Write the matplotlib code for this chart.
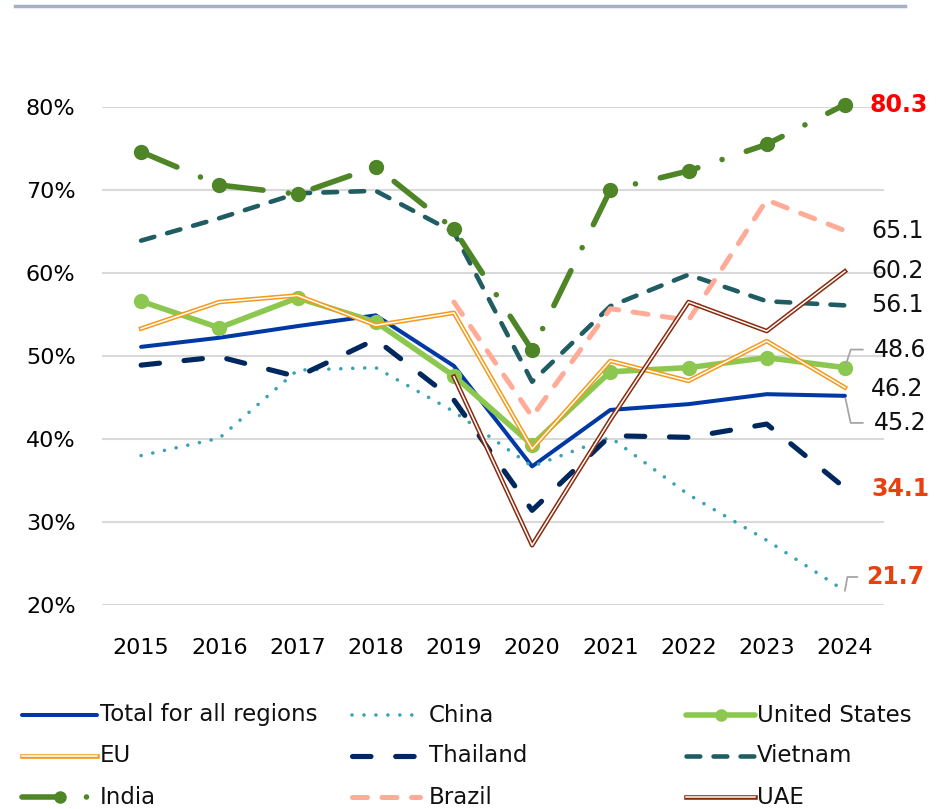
import matplotlib
matplotlib.use("Agg")
import matplotlib.pyplot as plt
from matplotlib.lines import Line2D
import numpy as np

plt.rcParams['font.family'] = ['DejaVu Sans']

years = ['2015', '2016', '2017', '2018', '2019', '2020', '2021', '2022', '2023', '2024']
nan = np.nan
total    = [51.1, 52.2, 53.6, 54.9, 48.8, 36.7, 43.5, 44.2, 45.4, 45.2]
china    = [38.0, 40.1, 48.3, 48.6, 43.3, 36.7, 40.2, 33.3, 27.8, 21.7]
us       = [56.6, 53.4, 57.0, 54.1, 47.6, 39.3, 48.1, 48.6, 49.8, 48.6]
eu       = [53.3, 56.5, 57.3, 53.7, 55.2, 38.8, 49.4, 47.0, 51.8, 46.2]
thailand = [48.9, 49.9, 47.5, 52.0, 44.7, 31.4, 40.4, 40.2, 41.8, 34.1]
vietnam  = [63.9, 66.6, 69.6, 69.9, 64.9, 46.9, 56.0, 59.8, 56.6, 56.1]
india    = [74.6, 70.6, 69.5, 72.8, 65.3, 50.7, 70.0, 72.3, 75.5, 80.3]
brazil   = [nan, nan, nan, nan, 56.5, 42.7, 55.7, 54.3, 68.8, 65.1]
uae      = [nan, nan, nan, nan, 47.5, 27.2, 42.3, 56.5, 53.0, 60.2]
yticks = [20, 30, 40, 50, 60, 70, 80]
ytick_labels = ['20%', '30%', '40%', '50%', '60%', '70%', '80%']

C_TOTAL = '#0039A6'
C_CHINA = '#3AA3B3'
C_US = '#8CC850'
C_EU = '#F39A1A'
C_THAI = '#00285E'
C_VIET = '#1F5D63'
C_INDIA = '#4E8526'
C_BRAZIL = '#FFAB97'
C_UAE = '#8A2A0C'

styles = {
    'Total for all regions': [dict(color=C_TOTAL, lw=2.9, solid_capstyle='round')],
    'China': [dict(color=C_CHINA, lw=2.6, linestyle=(0, (0.01, 3.3)), dash_capstyle='round')],
    'United States': [dict(color=C_US, lw=4.0, marker='o', ms=10, mec=C_US, mfc=C_US, solid_capstyle='round')],
    'EU': [dict(color=C_EU, lw=3.3), dict(color='white', lw=1.1)],
    'Thailand': [dict(color=C_THAI, lw=3.7, linestyle=(0, (3.6, 4.8)), dash_capstyle='round')],
    'Vietnam': [dict(color=C_VIET, lw=3.3, linestyle=(0, (3.0, 2.9)), dash_capstyle='round')],
    'India': [dict(color=C_INDIA, lw=4.0, linestyle=(0, (7.0, 4.6, 0.01, 4.6)), dash_capstyle='round',
                   marker='o', ms=10, mec=C_INDIA, mfc=C_INDIA)],
    'Brazil': [dict(color=C_BRAZIL, lw=3.6, linestyle=(0, (3.0, 2.9)), dash_capstyle='round')],
    'UAE': [dict(color=C_UAE, lw=3.3), dict(color='white', lw=1.1)],
}
series = [('Total for all regions', total), ('China', china), ('United States', us),
          ('EU', eu), ('Thailand', thailand), ('Vietnam', vietnam), ('India', india),
          ('Brazil', brazil), ('UAE', uae)]

fig = plt.figure(figsize=(9.38, 8.09), dpi=100)
W, H = 938, 809
ax = fig.add_axes([102 / W, 1 - 605 / H, (884 - 102) / W, (605 - 107) / H])

x = np.arange(len(years))
for name, vals in series:
    for st in styles[name]:
        ax.plot(x, vals, clip_on=False, **st)

ax.set_xlim(-0.5, len(years) - 0.5)
ax.set_ylim(20, 80)
ax.set_yticks(yticks)
ax.set_yticklabels(ytick_labels)
ax.set_xticks(x)
ax.set_xticklabels(years)
ax.tick_params(axis='both', length=0, labelsize=16, colors='#000000')
ax.tick_params(axis='x', pad=24)
ax.tick_params(axis='y', pad=19)
for lab in ax.get_yticklabels():
    lab.set_horizontalalignment('right')
ax.grid(axis='y', color='#D9D9D9', lw=1.5)
ax.set_axisbelow(True)
for s in ax.spines.values():
    s.set_visible(False)

# end labels
last = len(years) - 1
plain = dict(fontsize=17, color='#111111', va='center', ha='left', annotation_clip=False)
red = dict(fontsize=17, fontweight='bold', va='center', ha='left', annotation_clip=False)
ax.annotate(f'{india[-1]:.1f}', xy=(last, india[-1]), xytext=(18, 0), textcoords='offset points',
            color='#FF0000', **red)
ax.annotate(f'{brazil[-1]:.1f}', xy=(last, brazil[-1]), xytext=(19, 0), textcoords='offset points', **plain)
ax.annotate(f'{uae[-1]:.1f}', xy=(last, uae[-1]), xytext=(19, 0), textcoords='offset points', **plain)
ax.annotate(f'{vietnam[-1]:.1f}', xy=(last, vietnam[-1]), xytext=(19, 0), textcoords='offset points', **plain)
ax.annotate(f'{eu[-1]:.1f}', xy=(last, eu[-1]), xytext=(19, -1), textcoords='offset points', **plain)
ax.annotate(f'{thailand[-1]:.1f}', xy=(last, thailand[-1]), xytext=(19, -1), textcoords='offset points',
            color='#E8400F', **red)

lead = dict(arrowstyle='-', color='#A6A6A6', lw=1.3)
ax.annotate(f'{us[-1]:.1f}', xy=(last, us[-1]), xytext=(21, 13), textcoords='offset points',
            arrowprops=dict(connectionstyle='angle,angleA=0,angleB=72,rad=0', relpos=(0, 0.5),
                            shrinkA=6, shrinkB=3, **lead), **plain)
ax.annotate(f'{total[-1]:.1f}', xy=(last, total[-1]), xytext=(21, -19.5), textcoords='offset points',
            arrowprops=dict(connectionstyle='angle,angleA=0,angleB=-78,rad=0', relpos=(0, 0.5),
                            shrinkA=6, shrinkB=2, **lead), **plain)
ax.annotate(f'{china[-1]:.1f}', xy=(last, china[-1]), xytext=(15, 10), textcoords='offset points',
            arrowprops=dict(connectionstyle='angle,angleA=0,angleB=80,rad=0', relpos=(0, 0.5),
                            shrinkA=4, shrinkB=0, **lead), color='#E8400F', **red)

# top decorative rule
fig.add_artist(Line2D([15 / W, 905 / W], [1 - 6 / H, 1 - 6 / H], transform=fig.transFigure,
                      color='#A3B0C8', lw=2.5))

# manual legend
rows = [715, 756, 797]
cols = [(22, 97, 100), (352, 420, 429), (686, 755, 757)]
for i, (name, vals) in enumerate(series):
    r, c = divmod(i, 3)
    x0, x1, xt = cols[c]
    yy = 1 - rows[r] / H
    for st in styles[name]:
        st2 = dict(st)
        mk = st2.pop('marker', None)
        ms = st2.pop('ms', None)
        fig.add_artist(Line2D([x0 / W, x1 / W], [yy, yy], transform=fig.transFigure, **st2))
        if mk:
            fig.add_artist(Line2D([(x0 + x1) / 2 / W], [yy], transform=fig.transFigure, marker=mk,
                                  ms=ms * 0.8, color=st['color'], lw=0))
    fig.text(xt / W, yy, name, fontsize=16.5, va='center', ha='left', color='#111111')

fig.savefig('out.png', dpi=100)
